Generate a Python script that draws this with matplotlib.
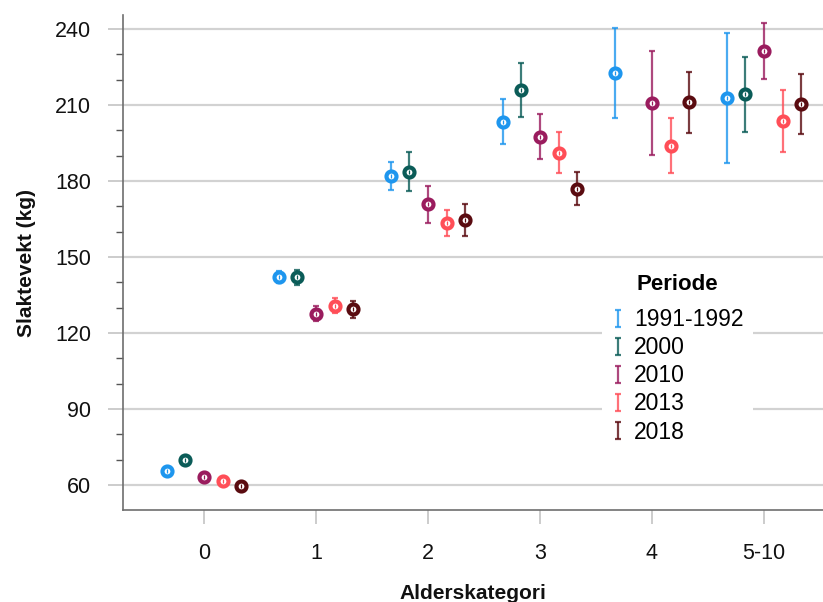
import numpy as np
import matplotlib
matplotlib.use("Agg")
import matplotlib.pyplot as plt
from matplotlib.ticker import MultipleLocator
from matplotlib.legend_handler import HandlerErrorbar
from matplotlib.container import ErrorbarContainer

plt.rcParams['font.family'] = ['Liberation Sans', 'DejaVu Sans']

categories = ["0", "1", "2", "3", "4", "5-10"]
periods = ["1991-1992", "2000", "2010", "2013", "2018"]
colors = ["#1e96ee", "#0b5c58", "#9a1c5e", "#ff4e57", "#5a0b10"]

mean_1991 = [65.5, 142.1, 182.0, 203.3, 222.6, 212.6]
lo_1991 = [64.5, 139.6, 176.3, 194.6, 205.0, 187.0]
hi_1991 = [66.5, 144.6, 187.4, 212.2, 240.5, 238.5]

mean_2000 = [69.7, 142.0, 183.5, 215.9, np.nan, 214.2]
lo_2000 = [68.5, 139.0, 175.9, 205.4, np.nan, 199.3]
hi_2000 = [70.9, 145.0, 191.3, 226.6, np.nan, 229.1]

mean_2010 = [63.1, 127.6, 170.8, 197.5, 210.7, 231.3]
lo_2010 = [62.0, 124.6, 163.4, 188.7, 190.1, 220.1]
hi_2010 = [64.2, 130.6, 178.0, 206.4, 231.3, 242.5]

mean_2013 = [61.4, 130.8, 163.4, 191.2, 193.9, 203.6]
lo_2013 = [60.4, 127.7, 158.3, 183.3, 183.3, 191.3]
hi_2013 = [62.4, 133.9, 168.4, 199.2, 204.9, 215.9]

mean_2018 = [59.5, 129.4, 164.6, 177.0, 211.1, 210.5]
lo_2018 = [58.4, 126.1, 158.4, 170.4, 199.1, 198.7]
hi_2018 = [60.6, 132.5, 170.9, 183.7, 223.2, 222.4]

means = [mean_1991, mean_2000, mean_2010, mean_2013, mean_2018]
los = [lo_1991, lo_2000, lo_2010, lo_2013, lo_2018]
his = [hi_1991, hi_2000, hi_2010, hi_2013, hi_2018]
offsets = [-0.333, -0.167, 0.0, 0.167, 0.333]

fig = plt.figure(figsize=(8.23, 6.02), dpi=100)
ax = fig.add_axes([0.1495, 0.1528, 0.8505, 0.8222])

x = np.arange(len(categories))
proxies = []
for m, lo, hi, off, c, p in zip(means, los, his, offsets, colors, periods):
    m = np.array(m, dtype=float)
    lo = np.array(lo, dtype=float)
    hi = np.array(hi, dtype=float)
    xx = x + off
    ax.errorbar(xx, m, yerr=[m - lo, hi - m], fmt='none', ecolor=c, alpha=0.8,
                elinewidth=1.6, capsize=2.2, capthick=1.6, zorder=3)
    ax.plot(xx, m, linestyle='none', marker='o', ms=7.2, mew=3.0, mfc='white', mec=c, zorder=4)
    ax.plot(xx, m, linestyle='none', marker='|', ms=2.5, mew=0.9, color=c, zorder=5)
    pr = ax.errorbar([np.nan], [np.nan], yerr=[[1], [1]], fmt='none', ecolor=c, alpha=0.8,
                     elinewidth=1.6, capsize=2.5, capthick=1.6, label=p)
    proxies.append(pr)

ax.set_xlim(-0.723, 5.527)
ax.set_ylim(50.1, 245.5)
ax.set_xticks(x)
ax.set_xticklabels(categories)
ax.yaxis.set_major_locator(MultipleLocator(30))
ax.yaxis.set_minor_locator(MultipleLocator(10))
ax.set_yticks(np.arange(60, 241, 30))

ax.grid(axis='y', which='major', color='#d2d2d2', linewidth=1.6, zorder=0)
ax.set_axisbelow(True)

for s in ['top', 'right']:
    ax.spines[s].set_visible(False)
for s in ['left', 'bottom']:
    ax.spines[s].set_color('#6e6e6e')
    ax.spines[s].set_linewidth(1.2)

ax.tick_params(axis='y', which='major', length=11, width=1.3, color='#c8c8c8',
               labelsize=15.5, pad=12, labelcolor='#111111')
ax.tick_params(axis='y', which='minor', length=5, width=1.0, color='#555555')
ax.tick_params(axis='x', which='major', length=10, width=1.3, color='#c8c8c8',
               labelsize=15.5, pad=14, labelcolor='#111111')

ax.set_xlabel("Alderskategori", fontsize=15, fontweight='bold', labelpad=14, color='#111111')
ax.set_ylabel("Slaktevekt (kg)", fontsize=15, fontweight='bold', labelpad=14, color='#111111')

leg = ax.legend(handles=proxies, labels=periods, title="Periode", loc='upper left',
                bbox_to_anchor=(0.684, 0.495), frameon=True, fontsize=16.5,
                title_fontproperties={'weight': 'bold', 'size': 16},
                handlelength=0.6, handletextpad=0.42, labelspacing=0.22,
                borderpad=0.4, borderaxespad=0,
                handler_map={ErrorbarContainer: HandlerErrorbar(yerr_size=0.36)})
leg._legend_box.sep = 9.5
leg.get_frame().set_edgecolor('none')
leg.get_frame().set_facecolor('white')
leg.get_frame().set_alpha(1.0)
leg.set_zorder(6)

fig.savefig("out.png", dpi=100)
